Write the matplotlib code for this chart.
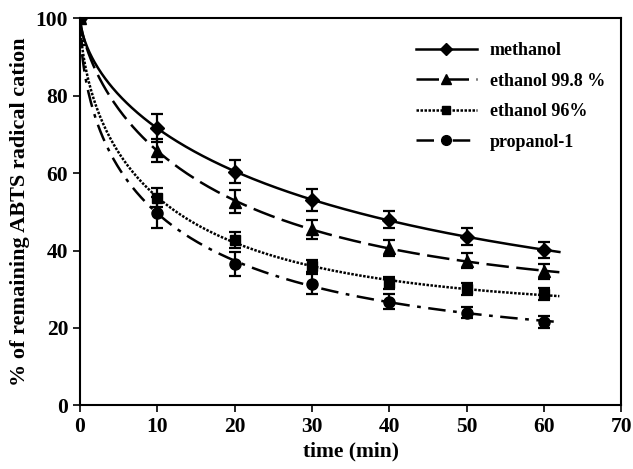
import numpy as np
import matplotlib
matplotlib.use("Agg")
import matplotlib.pyplot as plt

plt.rcParams['font.family'] = ['Liberation Serif', 'DejaVu Serif']
plt.rcParams['font.weight'] = 'bold'

time = [0, 10, 20, 30, 40, 50, 60]

methanol = [100, 71.6, 60.3, 53.0, 48.0, 43.6, 40.1]
methanol_err = [0, 3.5, 3.0, 2.8, 2.3, 2.3, 2.0]

ethanol998 = [100, 65.8, 52.6, 45.5, 40.6, 37.4, 34.6]
ethanol998_err = [6, 3.0, 3.0, 2.5, 2.0, 2.0, 2.0]

ethanol96 = [100, 53.6, 42.7, 36.0, 31.6, 30.0, 28.8]
ethanol96_err = [0, 2.5, 2.0, 1.5, 1.5, 1.5, 1.5]

propanol = [100, 49.8, 36.5, 31.4, 26.8, 24.0, 21.6]
propanol_err = [7, 4.0, 3.0, 2.5, 2.0, 1.5, 1.5]

labels = ['methanol', 'ethanol 99.8 %', 'ethanol 96%', 'propanol-1']


def fit_curve(t, y):
    # y = C + (100 - C) * exp(-k * t^p), grid search on C, linear fit for k, p
    t = np.asarray(t[1:], float)
    y = np.asarray(y[1:], float)
    best = None
    for c in np.linspace(0, y.min() - 0.5, 200):
        z = np.log(-np.log((y - c) / (100 - c)))
        p, lk = np.polyfit(np.log(t), z, 1)
        pred = c + (100 - c) * np.exp(-np.exp(lk) * t ** p)
        res = np.sum((pred - y) ** 2)
        if best is None or res < best[0]:
            best = (res, c, np.exp(lk), p)
    _, c, k, p = best
    tt = np.linspace(0, 62, 400)
    return tt, c + (100 - c) * np.exp(-k * tt ** p)


series = [
    (methanol, methanol_err, 'D', 7, '-'),
    (ethanol998, ethanol998_err, '^', 8, (0, (9, 3))),
    (ethanol96, ethanol96_err, 's', 7, (0, (1, 0.6))),
    (propanol, propanol_err, 'o', 8, (0, (7, 3, 1.5, 3))),
]

fig = plt.figure(figsize=(6.33, 4.69), dpi=100)
ax = fig.add_axes([0.1264, 0.1354, 0.855, 0.8262])

for (vals, err, mk, ms, ls), lab in zip(series, labels):
    tt, yy = fit_curve(time, vals)
    ax.plot(tt, yy, color='black', lw=1.8, linestyle=ls)
    ax.errorbar(time, vals, yerr=err, fmt='none', ecolor='black',
                elinewidth=1.6, capsize=4, capthick=1.6)
    ax.plot(time, vals, linestyle='none', marker=mk, ms=ms, color='black')
    # legend proxy
    ax.plot([], [], color='black', lw=1.8, linestyle=ls, marker=mk,
            ms=ms - 1, label=lab)

ax.set_xlim(0, 70)
ax.set_ylim(0, 100)
ax.set_xticks(range(0, 71, 10))
ax.set_yticks(range(0, 101, 20))
ax.tick_params(direction='out', length=5, width=1.2, labelsize=15.5)
for lab in ax.get_xticklabels() + ax.get_yticklabels():
    lab.set_fontweight('bold')
for s in ax.spines.values():
    s.set_linewidth(1.5)

ax.set_xlabel('time (min)', fontsize=15.5, fontweight='bold', labelpad=3)
ax.set_ylabel('% of remaining ABTS radical cation', fontsize=16,
              fontweight='bold', labelpad=4)

ax.legend(loc='upper left', bbox_to_anchor=(0.59, 0.98), frameon=False,
          handlelength=3.4, labelspacing=0.75, prop={'size': 13, 'weight': 'bold'},
          handletextpad=0.7)

fig.savefig('out.png', dpi=100)
